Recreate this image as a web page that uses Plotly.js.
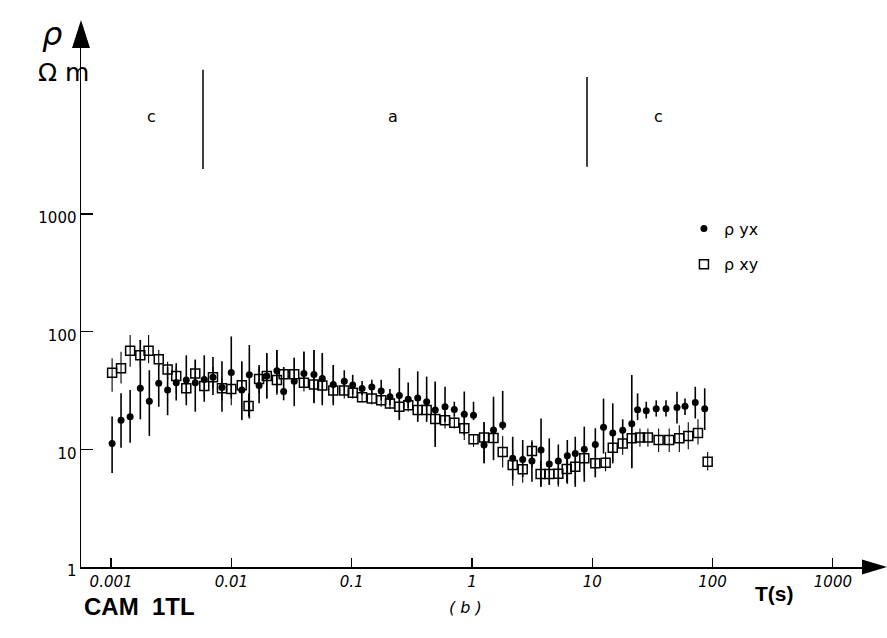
<!DOCTYPE html>
<html><head><meta charset="utf-8">
<script src="https://cdn.plot.ly/plotly-3.0.1.min.js"></script>
<style>html,body{margin:0;padding:0;background:#fff}#chart{width:887px;height:638px}</style>
</head><body><div id="chart"></div>
<script>
// ρyx (filled circles)
const periodYx = [0.00102,0.00121,0.00144,0.00175,0.00208,0.00249,0.00295,0.00348,0.00422,0.00501,0.00595,0.00703,0.00835,0.00998,0.0122,0.0141,0.0170,0.0197,0.0239,0.0272,0.0333,0.0401,0.0486,0.0570,0.0703,0.0868,0.102,0.122,0.147,0.176,0.208,0.249,0.295,0.354,0.420,0.495,0.597,0.713,0.863,1.03,1.26,1.51,1.80,2.18,2.64,3.15,3.75,4.39,5.22,6.20,7.22,8.58,10.6,12.4,14.8,17.9,21.3,23.8,28.1,34.0,41.0,50.6,59.0,71.8,86.0];
const rhoYx = [11.2,17.7,18.9,33,25.6,36.4,32,36.8,38.8,36.8,39.3,40.9,33.6,45,32,43,34.9,42,46.5,31,37.9,44.2,43.2,40,35.6,37.9,35.3,32.9,33.8,31.3,28,28.7,26.7,27.3,25.4,21.6,23,21.8,19.9,19.5,10.9,14.6,16.1,8.4,8.2,7.95,9.85,7.5,7.95,8.8,9.2,10,11,15.4,13.8,14.5,16.5,21.7,21.3,22.1,22.1,22.7,23.2,25,22.1];
const rhoYxLow = [6.3,10.3,11.4,18,13,23,19.5,26,23.7,20.9,25.4,28.9,20.9,27,17.7,18.3,24.6,27,29.9,26.1,23.3,33,24.6,23.7,23.7,28.9,28.9,28.9,28.9,26,23.7,17.7,22.3,17.1,17.1,10.5,17.1,19,13.2,17.7,7.6,8.1,14.6,5.5,5.8,5.3,4.8,5,5,5.1,4.8,5.3,5.8,9.2,7.6,10.5,6.9,17.7,18.3,19,19,16.6,19.6,18.3,14.6];
const rhoYxHigh = [19,30,32,85,47,54,50,54,63,58,63,61,56,91,56,77,52,66,70,50,60,68,70,66,52,47,43,38,39,39,32.5,49,37,46,41.5,37.6,34,25.4,31,25.4,17.1,28,31.4,12.8,12,11.6,18.3,12.4,11,12,12.8,15.6,15.1,27,24.6,18,42.8,29.9,25.4,26.1,26.1,30.8,27,34,33];

// ρxy (open squares)
const periodXy = [0.00102,0.00121,0.00144,0.00175,0.00205,0.00249,0.00295,0.00348,0.00422,0.00501,0.00595,0.00703,0.00835,0.00998,0.0122,0.0139,0.0170,0.0197,0.0239,0.0272,0.0333,0.0401,0.0486,0.0570,0.0703,0.0868,0.102,0.122,0.147,0.176,0.208,0.249,0.295,0.354,0.420,0.495,0.597,0.713,0.863,1.03,1.26,1.51,1.80,2.18,2.64,3.15,3.72,4.39,5.22,6.13,7.22,8.58,10.6,12.9,14.8,17.9,21.3,24.9,29.0,35.6,43.6,52.9,62.8,75.6,91.0];
const rhoXy = [44.8,49,68.8,63,69,58.4,47.7,42,33,44.2,34.6,41,33,32.6,35,23.4,39.7,42,38.8,43.5,43.5,36.8,35.6,34.9,31.6,31.6,30.2,27.7,27.1,26.1,24.5,23,23.7,21.6,21.6,18.1,17.7,16.8,15.1,12.2,12.6,12.5,9.5,7.35,6.76,9.7,6.17,6.17,6.2,6.8,7.1,8.4,7.6,7.7,10.3,11.2,12.4,12.6,12.6,12,12,12.4,13,13.8,7.85];
const rhoXyLow = [30.8,36.3,50.4,50,54,50,38.8,30,27,36,28,33,26,23.7,18,19,30,27,29,38,33,31,25,24,25,27,27,25,24,23,22,18,21,18,18,10.5,15,15,12,10.5,7.6,8.1,7,4.9,5.2,7,4.8,5,4.8,5.2,5,6,5.8,6.5,8,9,7,10.5,10.5,9.5,9.5,9.5,10,11,6.6];
const rhoXyHigh = [59.5,67.5,93.5,85,93.5,70,55.6,50,40,57,43,50,40,38.8,55,30,50,65,70,50,60,67,70,65,52,40,35,31,31,30,28,30,27,26,26,37.6,21,19,20,13.5,17,25,13,10,9,12,8,8,8,9,10,12,10,9.5,13.5,13,17,15,15,15,15,16,17,18,9.5];

const xTickVals = [0.001,0.01,0.1,1,10,100,1000];
const xTickText = ['0.001','0.01','0.1','1','10','100','1000'];
const yTickVals = [1,10,100,1000];
const yTickText = ['1','10','100','1000'];
const zoneBounds = [0.00581, 9.04];
const zoneLabels = ['c','a','c'];
const seriesNames = ['ρ yx','ρ xy'];

const diff = (a,b) => a.map((v,i) => v - b[i]);
const black = '#000';

const traces = [
  {
    x: periodYx, y: rhoYx, type: 'scatter', mode: 'markers', name: seriesNames[0],
    legendgroup: 'yx',
    marker: {symbol: 'circle', size: 7, color: black},
    error_y: {type: 'data', symmetric: false, array: diff(rhoYxHigh, rhoYx), arrayminus: diff(rhoYx, rhoYxLow),
              color: black, thickness: 1.6, width: 0}
  },
  {
    x: periodXy, y: rhoXy, type: 'scatter', mode: 'markers', name: seriesNames[1],
    legendgroup: 'xy',
    marker: {symbol: 'square-open', size: 9, color: black, line: {width: 1.5, color: black}},
    error_y: {type: 'data', symmetric: false, array: diff(rhoXyHigh, rhoXy), arrayminus: diff(rhoXy, rhoXyLow),
              color: black, thickness: 1.1, width: 0}
  }
];

const font = 'DejaVu Sans, Liberation Sans, sans-serif';
const layout = {
  width: 887, height: 638,
  margin: {l: 81, r: 25, t: 48, b: 71},
  paper_bgcolor: '#fff', plot_bgcolor: '#fff',
  showlegend: true,
  legend: {x: 0.772, y: 0.685, xanchor: 'left', yanchor: 'top', traceorder: 'grouped', tracegroupgap: 12,
           font: {family: font, size: 16, color: black}, bgcolor: 'rgba(0,0,0,0)', itemwidth: 30},
  xaxis: {
    type: 'log', range: [-3.25, 3.242], showgrid: false, zeroline: false,
    showline: true, linecolor: black, linewidth: 1.5,
    ticks: 'inside', ticklen: 9, tickwidth: 1.2, tickcolor: black,
    tickvals: xTickVals, ticktext: xTickText,
    tickfont: {family: font, size: 15, color: black, style: 'italic'}
  },
  yaxis: {
    type: 'log', range: [0, 4.411], showgrid: false, zeroline: false,
    showline: true, linecolor: black, linewidth: 1.5,
    ticks: 'inside', ticklen: 12, tickwidth: 1.2, tickcolor: black,
    tickvals: yTickVals, ticktext: yTickText, ticklabelshift: 4,
    tickfont: {family: font, size: 15, color: black}
  },
  shapes: [
    {type: 'line', xref: 'x', yref: 'paper', x0: zoneBounds[0], x1: zoneBounds[0], y0: 0.767, y1: 0.958, line: {color: black, width: 1.5}},
    {type: 'line', xref: 'x', yref: 'paper', x0: zoneBounds[1], x1: zoneBounds[1], y0: 0.771, y1: 0.944, line: {color: black, width: 1.5}},
    {type: 'path', xref: 'paper', yref: 'paper', path: 'M 1 -0.0145 L 1.032 0 L 1 0.0145 Z', fillcolor: black, line: {width: 0}},
    {type: 'path', xref: 'paper', yref: 'paper', path: 'M -0.0115 1 L 0 1.054 L 0.0115 1 Z', fillcolor: black, line: {width: 0}}
  ],
  annotations: [
    {xref: 'paper', yref: 'paper', x: 0.0819, y: 0.89, text: zoneLabels[0], showarrow: false, font: {family: font, size: 16, color: black}},
    {xref: 'paper', yref: 'paper', x: 0.3995, y: 0.89, text: zoneLabels[1], showarrow: false, font: {family: font, size: 16, color: black}},
    {xref: 'paper', yref: 'paper', x: 0.748, y: 0.89, text: zoneLabels[2], showarrow: false, font: {family: font, size: 16, color: black}},
    {xref: 'paper', yref: 'paper', x: -0.0525, y: 1.068, text: 'ρ', showarrow: false, font: {family: font, size: 32, color: black, style: 'italic'}},
    {xref: 'paper', yref: 'paper', x: -0.058, y: 0.985, text: 'Ω m', showarrow: false, font: {family: font, size: 25, color: black}},
    {xref: 'paper', yref: 'paper', x: 0.001, y: -0.106, xanchor: 'left', text: '<b>CAM  1TL</b>', showarrow: false, font: {family: 'Liberation Sans, Arial, sans-serif', size: 24, color: black}},
    {xref: 'paper', yref: 'paper', x: 0.4917, y: -0.100, text: '( b )', showarrow: false, font: {family: font, size: 16, color: black, style: 'italic'}},
    {xref: 'paper', yref: 'paper', x: 0.9155, y: -0.078, text: '<b>T(s)</b>', showarrow: false, font: {family: 'Liberation Sans, Arial, sans-serif', size: 21, color: black}}
  ]
};

Plotly.newPlot('chart', traces, layout, {displayModeBar: false, staticPlot: true});
</script>
</body></html>
